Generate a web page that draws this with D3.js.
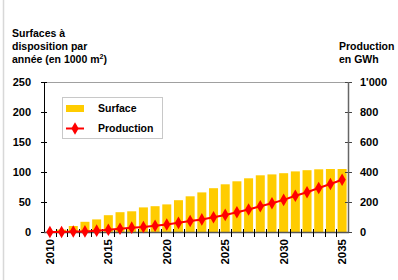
<!DOCTYPE html>
<html>
<head>
  <meta charset="utf-8">
  <script src="https://cdn.jsdelivr.net/npm/d3@7"></script>
  <style>
    body { margin: 0; background: #fff; }
    text { font-family: "Liberation Sans", Arial, sans-serif; font-weight: bold; fill: #000; }
  </style>
</head>
<body>
  <div class="chart"></div>
  <script>
    var years = d3.range(2010, 2036);
    var surface = [0, 4, 10, 17, 21, 28, 33, 34.5, 41, 43, 46, 53, 59.5, 66, 73,
                   79.5, 84.5, 89.5, 94.5, 96, 98, 101, 103, 104.5, 105, 105];
    var production = [0, 0, 3, 4, 9, 15, 22, 29, 33, 42, 50, 61, 73, 84, 98,
                      114, 132, 150, 172, 192, 214, 242, 265, 293, 320, 348];
    var leftTicks = [0, 50, 100, 150, 200, 250];
    var rightTicks = [0, 200, 400, 600, 800, 1000];
    var labelYears = [2010, 2015, 2020, 2025, 2030, 2035];

    var W = 398, H = 280;
    var pLeft = 44, pRight = 348, pTop = 82, pBottom = 232;

    var svg = d3.select('.chart').append('svg')
      .attr('width', W).attr('height', H);

    // thin frame line on the left side
    svg.append('line')
      .attr('x1', 3.5).attr('x2', 3.5).attr('y1', 0).attr('y2', H)
      .attr('stroke', '#d8d8d8').attr('stroke-width', 1.5);

    var x = d3.scaleBand().domain(years).range([pLeft, pRight]).paddingInner(0.23).paddingOuter(0.12);
    var yL = d3.scaleLinear().domain([0, 250]).range([pBottom, pTop]);
    var yR = d3.scaleLinear().domain([0, 1000]).range([pBottom, pTop]);

    // top border line
    svg.append('line')
      .attr('x1', pLeft).attr('x2', pRight).attr('y1', pTop + 0.5).attr('y2', pTop + 0.5)
      .attr('stroke', '#a0a0a0');

    // bars
    svg.append('g').selectAll('rect')
      .data(years)
      .enter().append('rect')
      .attr('x', function(d) { return x(d); })
      .attr('width', x.bandwidth())
      .attr('y', function(d, i) { return yL(surface[i]); })
      .attr('height', function(d, i) { return pBottom - yL(surface[i]); })
      .attr('fill', '#ffcc00');

    // left axis
    var axL = svg.append('g').attr('transform', 'translate(' + pLeft + ',0)')
      .call(d3.axisLeft(yL).tickValues(leftTicks).tickSize(3).tickPadding(10));
    axL.select('.domain').remove();
    axL.selectAll('.tick line').attr('x2', 3).attr('x1', -3).attr('stroke', '#000');
    axL.selectAll('.tick text').attr('font-size', 11).attr('font-family', null).attr('dy', '0.35em');
    svg.append('line').attr('x1', pLeft + 0.5).attr('x2', pLeft + 0.5)
      .attr('y1', pTop).attr('y2', pBottom).attr('stroke', '#000');

    // right axis
    var axR = svg.append('g').attr('transform', 'translate(' + pRight + ',0)')
      .call(d3.axisRight(yR).tickValues(rightTicks).tickSize(3).tickPadding(9)
        .tickFormat(function(d) { return d === 1000 ? "1'000" : d; }));
    axR.select('.domain').remove();
    axR.selectAll('.tick line').attr('x1', -3).attr('x2', 4).attr('stroke', '#444');
    axR.selectAll('.tick text').attr('font-size', 11).attr('font-family', null).attr('dy', '0.35em');
    svg.append('line').attr('x1', pRight + 0.5).attr('x2', pRight + 0.5)
      .attr('y1', pTop).attr('y2', pBottom).attr('stroke', '#666').attr('stroke-width', 1.5);

    // bottom axis
    svg.append('line').attr('x1', pLeft).attr('x2', pRight + 1)
      .attr('y1', pBottom + 0.5).attr('y2', pBottom + 0.5)
      .attr('stroke', '#555').attr('stroke-width', 1.5);
    var step = x.step();
    svg.append('g').selectAll('line')
      .data(years.slice(1))
      .enter().append('line')
      .attr('x1', function(d) { return Math.round(x(d) - step * 0.115) + 0.5; })
      .attr('x2', function(d) { return Math.round(x(d) - step * 0.115) + 0.5; })
      .attr('y1', pBottom - 3).attr('y2', pBottom + 5)
      .attr('stroke', '#000');
    svg.append('g').selectAll('text')
      .data(labelYears)
      .enter().append('text')
      .attr('transform', function(d) {
        return 'translate(' + (x(d) + x.bandwidth() / 2 + 4) + ',' + (pBottom + 7) + ') rotate(-90)';
      })
      .attr('text-anchor', 'end')
      .attr('font-size', 11.5)
      .text(function(d) { return d; });

    // production line
    var line = d3.line()
      .x(function(d, i) { return x(years[i]) + x.bandwidth() / 2; })
      .y(function(d) { return yR(d); });
    svg.append('path').datum(production)
      .attr('d', line)
      .attr('fill', 'none')
      .attr('stroke', '#ff0000')
      .attr('stroke-width', 2);
    var diamond = d3.symbol().type(d3.symbolDiamond).size(46);
    svg.append('g').selectAll('path')
      .data(production)
      .enter().append('path')
      .attr('d', diamond)
      .attr('transform', function(d, i) {
        return 'translate(' + (x(years[i]) + x.bandwidth() / 2) + ',' + yR(d) + ')';
      })
      .attr('fill', '#ff0000');

    // titles
    var tl = svg.append('text').attr('x', 12).attr('font-size', 10.5);
    tl.append('tspan').attr('x', 12).attr('y', 36.5).text('Surfaces à');
    tl.append('tspan').attr('x', 12).attr('y', 49.5).text('disposition par');
    tl.append('tspan').attr('x', 12).attr('y', 62.5).text('année (en 1000 m');
    tl.append('tspan').attr('dy', -4).attr('font-size', 7).text('2');
    tl.append('tspan').attr('dy', 4).text(')');

    var tr = svg.append('text').attr('font-size', 10.5);
    tr.append('tspan').attr('x', 339).attr('y', 49.5).text('Production');
    tr.append('tspan').attr('x', 339).attr('y', 62.5).text('en GWh');

    // legend
    var lg = svg.append('g');
    lg.append('rect').attr('x', 62.5).attr('y', 97.5).attr('width', 100).attr('height', 41)
      .attr('fill', '#fff').attr('stroke', '#c8c8c8');
    lg.append('rect').attr('x', 66).attr('y', 105).attr('width', 18).attr('height', 7)
      .attr('fill', '#ffcc00');
    lg.append('text').attr('x', 98).attr('y', 111.5).attr('font-size', 10.5).text('Surface');
    lg.append('line').attr('x1', 66).attr('x2', 84).attr('y1', 128.5).attr('y2', 128.5)
      .attr('stroke', '#ff0000').attr('stroke-width', 2);
    lg.append('path').attr('d', diamond).attr('transform', 'translate(75,128.5)').attr('fill', '#ff0000');
    lg.append('text').attr('x', 98).attr('y', 132).attr('font-size', 10.5).text('Production');
  </script>
</body>
</html>
